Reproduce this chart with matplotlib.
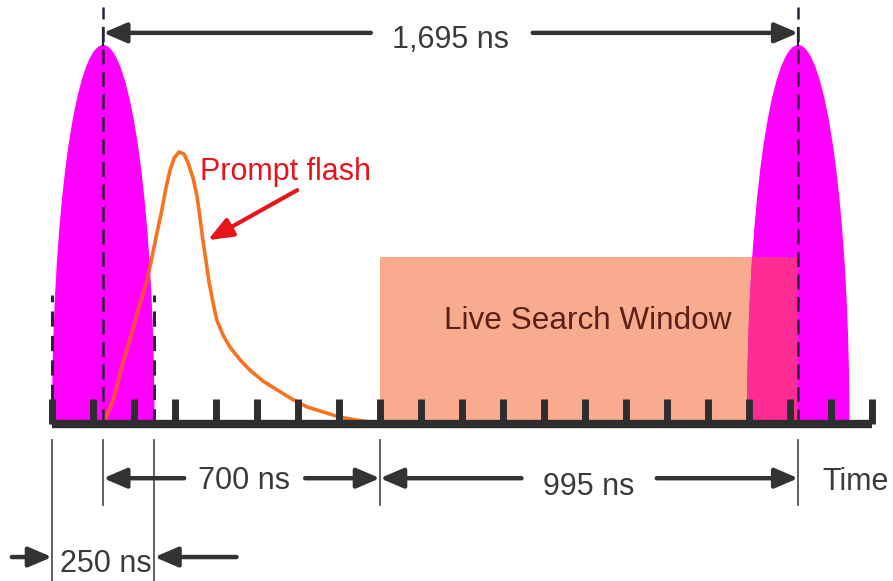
import numpy as np
import matplotlib
matplotlib.use("Agg")
import matplotlib.pyplot as plt
from matplotlib.patches import Ellipse, Rectangle

# ---------------- data (time in ns, amplitude in relative units) ----------------
tick_ns = list(range(0, 2001, 100))          # time-axis tick marks
pulse_centers = [125, 1820]                  # laser pulse centres
pulse_width = 250                            # gate / pulse width
pulse_height = 1.0
window_start = 800                           # live search window start
window_end = 1820
window_height = 0.44
gate_edges = [0, 250]
gate_line_top = 0.34

flash_t = [124, 134, 149, 161, 173, 195, 215, 232, 244, 256, 268, 278, 288, 298,
           310, 322, 332, 344, 354, 361, 368, 376, 383, 393, 402, 417, 434, 459,
           483, 515, 549, 585, 622, 661, 702, 739, 776, 795]
flash_a = [0.000, 0.024, 0.063, 0.111, 0.161, 0.243, 0.319, 0.380, 0.441, 0.504,
           0.565, 0.623, 0.670, 0.702, 0.718, 0.712, 0.689, 0.649, 0.599, 0.544,
           0.485, 0.427, 0.375, 0.319, 0.274, 0.235, 0.203, 0.169, 0.142, 0.113,
           0.090, 0.066, 0.045, 0.032, 0.018, 0.011, 0.005, 0.003]

dim_labels = ["1,695 ns", "700 ns", "995 ns", "250 ns"]
dim_spans = [(125, 1820), (125, 800), (800, 1820), (0, 250)]
window_label = "Live Search Window"
flash_label = "Prompt flash"
axis_label = "Time"

# ---------------- styling ----------------
FONT = ["Liberation Sans", "DejaVu Sans"]
FS = 22
DARK = "#333333"
TXT = "#3a3a3a"
MAGENTA = "#FF00FF"
OVERLAP = "#FF2C96"
SALMON = "#F9AB90"
ORANGE = "#F7731E"
RED = "#E8141C"

fig = plt.figure(figsize=(8.93, 5.81), dpi=100)
ax = fig.add_axes([0, 0, 1, 1])
ax.set_xlim(-126.8, 2051.2)
ax.set_ylim(-0.4142, 1.1187)
ax.axis("off")

# live search window
win = Rectangle((window_start, 0), window_end - window_start, window_height,
                facecolor=SALMON, edgecolor="none", zorder=1)
ax.add_patch(win)

# clip for everything above baseline
above = Rectangle((-500, 0), 3000, 2, transform=ax.transData, facecolor="none",
                  edgecolor="none")
ax.add_patch(above)

# pulses
for c in pulse_centers:
    e = Ellipse((c, 0), pulse_width, 2 * pulse_height, facecolor=MAGENTA,
                edgecolor="none", zorder=2)
    ax.add_patch(e)
    e.set_clip_path(above)
    e2 = Ellipse((c, 0), pulse_width, 2 * pulse_height, facecolor=OVERLAP,
                 edgecolor="none", zorder=2.5)
    ax.add_patch(e2)
    e2.set_clip_path(win)

# prompt flash curve
ax.plot(flash_t, flash_a, color=ORANGE, lw=2.6, zorder=3, solid_joinstyle="round",
        solid_capstyle="round")
left_pulse = Ellipse((pulse_centers[0], 0), pulse_width, 2 * pulse_height,
                     facecolor="none", edgecolor="none")
ax.add_patch(left_pulse)
ln, = ax.plot(flash_t, flash_a, color="#FF4848", lw=2.6, zorder=3.1,
              solid_joinstyle="round", solid_capstyle="round")
ln.set_clip_path(left_pulse)

# dashed lines
for c in pulse_centers:
    ax.plot([c, c], [0, 1.10], color="#2a2438", lw=1.8, ls=(0, (6, 3)), zorder=4)
    ax.plot([c, c], [pulse_height, 1.045], color="#2a2438", lw=1.6, zorder=4)
for g in gate_edges:
    ax.plot([g, g], [0, gate_line_top], color="#2a2438", lw=2.2, ls=(0, (5, 3)),
            zorder=4)

# time axis with ticks
ax.plot([tick_ns[0], tick_ns[-1]], [0, 0], color="#2e2e2e", lw=6,
        solid_capstyle="butt", zorder=5)
ax.vlines(tick_ns, 0, 0.066, color="#2e2e2e", lw=5, zorder=5)

# extension lines below axis
for x in [0, 250]:
    ax.plot([x, x], [-0.042, -0.42], color="#555555", lw=1.3, zorder=4)
for x in [125, 800, 1820]:
    ax.plot([x, x], [-0.042, -0.214], color="#555555", lw=1.3, zorder=4)

ARW = dict(arrowstyle="-|>,head_length=1.4,head_width=0.6", mutation_scale=10,
           lw=3.2, color=DARK, shrinkA=0, shrinkB=0)

def arrow(x0, y0, x1, y1, style=ARW):
    ax.annotate("", xy=(x1, y1), xytext=(x0, y0), arrowprops=style, zorder=6)

# dimension: 1,695 ns
y_top = 1.032
(a0, a1) = dim_spans[0]
mid = (a0 + a1) / 2
arrow(mid - 195, y_top, a0, y_top)
arrow(mid + 200, y_top, a1, y_top)
ax.text(mid, 0.992, dim_labels[0], ha="center", va="baseline", fontsize=FS,
        color=TXT, family=FONT)

# dimension: 700 ns
y_d = -0.143
(a0, a1) = dim_spans[1]
mid = (a0 + a1) / 2
arrow(mid - 140, y_d, a0, y_d)
arrow(mid + 155, y_d, a1, y_d)
ax.text(mid + 7, -0.1715, dim_labels[1], ha="center", va="baseline", fontsize=FS,
        color=TXT, family=FONT)

# dimension: 995 ns
(a0, a1) = dim_spans[2]
mid = (a0 + a1) / 2
arrow(mid - 165, y_d, a0, y_d)
arrow(mid + 165, y_d, a1, y_d)
ax.text(mid, -0.187, dim_labels[2], ha="center", va="baseline", fontsize=FS,
        color=TXT, family=FONT)

# axis label
ax.text(1878, -0.174, axis_label, ha="left", va="baseline", fontsize=FS,
        color=TXT, family=FONT)

# dimension: 250 ns (arrows outside)
y_g = -0.351
(a0, a1) = dim_spans[3]
arrow(a0 - 98, y_g, a0, y_g)
arrow(a1 + 200, y_g, a1, y_g)
ax.text((a0 + a1) / 2 + 6, -0.39, dim_labels[3], ha="center", va="baseline",
        fontsize=FS, color=TXT, family=FONT)

# live search window label
ax.text((window_start + window_end) / 2 - 4, 0.25, window_label, ha="center",
        va="baseline", fontsize=22.7, color="#5b2018", family=FONT, zorder=6)

# prompt flash label + arrow
ax.text(361, 0.645, flash_label, ha="left", va="baseline", fontsize=FS,
        color=RED, family=FONT, zorder=6)
ax.annotate("", xy=(380, 0.485), xytext=(598, 0.617),
            arrowprops=dict(arrowstyle="-|>,head_length=1.5,head_width=0.6",
                            mutation_scale=10, lw=3, color=RED, shrinkA=0,
                            shrinkB=0), zorder=6)

fig.savefig("out.png", dpi=100)
